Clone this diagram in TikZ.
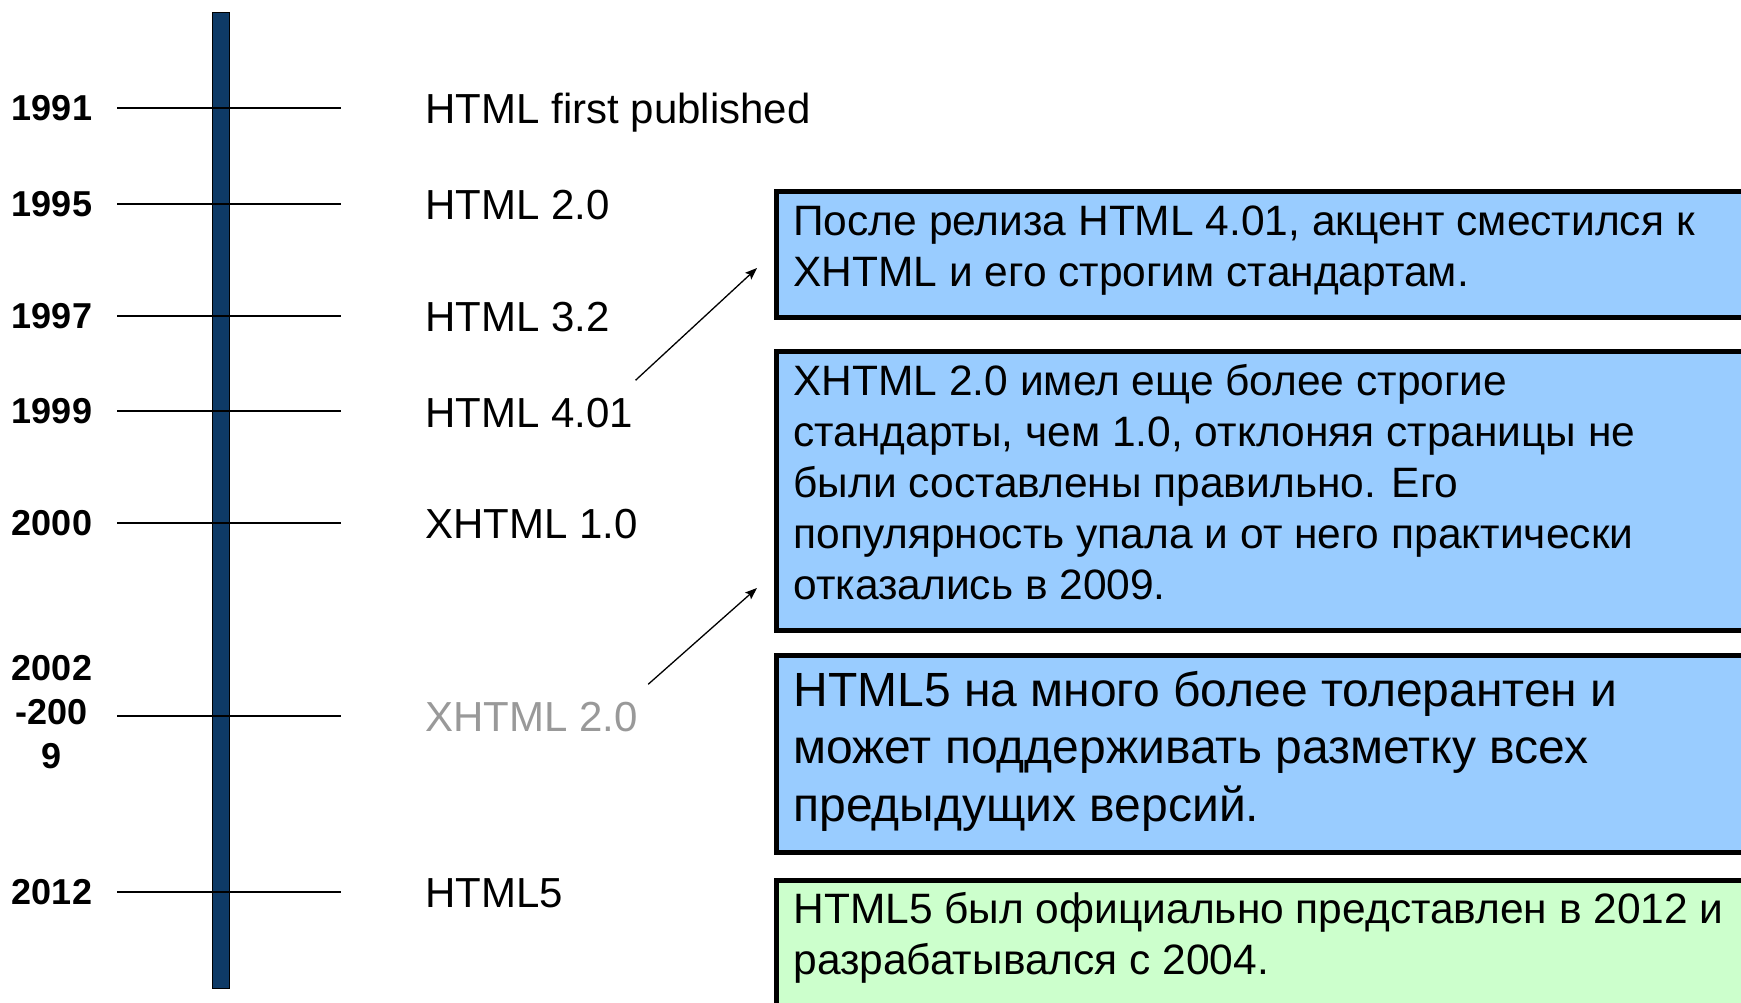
\documentclass[tikz,border=0pt]{standalone}
\usepackage{fontspec}
\setmainfont{Liberation Sans}
\usetikzlibrary{arrows.meta}
\definecolor{barnavy}{HTML}{0E3A66}
\definecolor{noteblue}{HTML}{99CCFF}
\definecolor{notegreen}{HTML}{CCFFCC}
\definecolor{fadegray}{HTML}{999999}
\tikzset{
  yearlbl/.style={font=\bfseries\fontsize{18}{22}\selectfont, inner sep=0pt, anchor=base, align=center},
  verlbl/.style={font=\fontsize{21}{25}\selectfont, inner sep=0pt, anchor=base west},
  tickline/.style={line width=0.75pt},
  note/.style={draw, line width=2.5pt, anchor=north west, minimum width=520pt, inner sep=0pt},
  notetxt/.style={inner sep=0pt, anchor=base west, align=left, font=\fontsize{21.25}{25.5}\selectfont},
  pointer/.style={line width=0.65pt, -{Stealth[length=6pt,width=4.5pt,inset=1.2pt]}}
}
\begin{document}
\begin{tikzpicture}[x=0.5pt,y=-0.5pt]
  \useasboundingbox (0,0) rectangle (1741,1002);
  \clip (0,0) rectangle (1741,1002);
  % timeline
  \node[draw, fill=barnavy, line width=0.75pt, minimum width=8.5pt, minimum height=488pt, inner sep=0pt, anchor=north] (bar) at (221,11.5) {};
  \foreach \y in {108,204,316,411,523,716,892}
    \draw[tickline] (117,\y) -- (341,\y);
  % years (multi-line nodes sit on their last baseline)
  \node[yearlbl] (y1991) at (52,120.5) {1991};
  \node[yearlbl] (y1995) at (52,216.5) {1995};
  \node[yearlbl] (y1997) at (52,328.5) {1997};
  \node[yearlbl] (y1999) at (52,423.5) {1999};
  \node[yearlbl] (y2000) at (52,535.5) {2000};
  \node[yearlbl] (y2002) at (52,768) {2002\\-200\\9};
  \node[yearlbl] (y2012) at (52,904.5) {2012};
  % versions
  \node[verlbl] (v1) at (425,123) {HTML first published};
  \node[verlbl] (v2) at (425,219) {HTML 2.0};
  \node[verlbl] (v3) at (425,331) {HTML 3.2};
  \node[verlbl] (v4) at (425,427) {HTML 4.01};
  \node[verlbl] (v5) at (425,538) {XHTML 1.0};
  \node[verlbl, text=fadegray] (v6) at (425,731) {XHTML 2.0};
  \node[verlbl] (v7) at (425,907) {HTML5};
  % notes
  \node[note, fill=noteblue, minimum height=63pt] (n1) at (773.5,188.5) {};
  \node[note, fill=noteblue, minimum height=139.5pt] (n2) at (773.5,348.5) {};
  \node[note, fill=noteblue, minimum height=98.5pt] (n3) at (773.5,652.5) {};
  \node[note, fill=notegreen, minimum height=63pt] (n4) at (773.5,877.5) {};
  \node[notetxt] (t1) at (793,286) {После релиза HTML 4.01, акцент сместился к\\XHTML и его строгим стандартам.};
  \node[notetxt] (t2) at (793,599) {XHTML 2.0 имел еще более строгие\\стандарты, чем 1.0, отклоняя страницы не\\были составлены правильно. Его\\популярность упала и от него практически\\отказались в 2009.};
  \node[notetxt, font=\fontsize{24}{28.75}\selectfont] (t3) at (793,821) {HTML5 на много более толерантен и\\может поддерживать разметку всех\\предыдущих версий.};
  \node[notetxt] (t4) at (793,974) {HTML5 был официально представлен в 2012 и\\разрабатывался с 2004.};
  % pointers
  \coordinate (k1) at (757,268);
  \coordinate (k2) at (757,588);
  \draw[pointer] ([shift={(2,-17)}]v4.north east) -- (k1);
  \draw[pointer] ([shift={(10,-17)}]v6.north east) -- (k2);
\end{tikzpicture}
\end{document}
